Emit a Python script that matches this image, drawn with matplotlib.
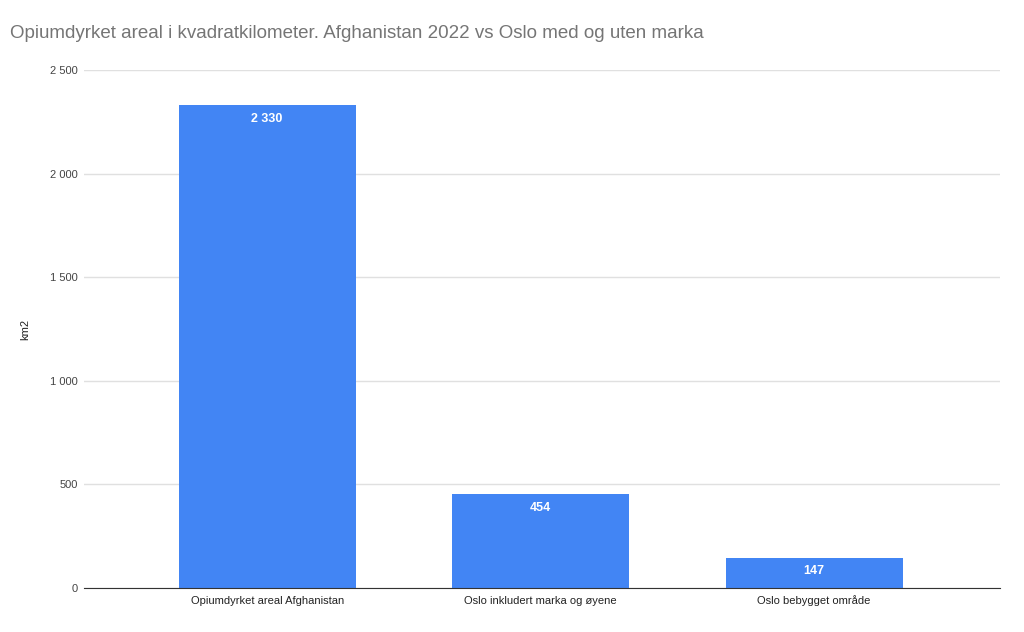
#!/usr/bin/env python3

import matplotlib
matplotlib.use("Agg")
import matplotlib.pyplot as plt

categories = ["Opiumdyrket areal Afghanistan", "Oslo inkludert marka og øyene", "Oslo bebygget område"]
values = [2330, 454, 147]
yticks = [0, 500, 1000, 1500, 2000, 2500]


def fmt(v):
    return f"{v:,}".replace(",", " ")


plt.rcParams['font.family'] = ['Liberation Sans', 'DejaVu Sans']

fig = plt.figure(figsize=(10.24, 6.32), dpi=100)
ax = fig.add_axes([0.082, 0.0696, 0.8946, 0.8194])

x = range(len(categories))
bars = ax.bar(x, values, width=0.647, color="#4285f4", zorder=3)

for b, v in zip(bars, values):
    ax.annotate(fmt(v), (b.get_x() + b.get_width() / 2, v), xytext=(0, -10),
                textcoords="offset points", ha="center", va="center",
                color="white", fontsize=9, fontweight="bold", zorder=4)

ax.set_xlim(-0.67, 2.68)
ax.set_ylim(0, 2500)
ax.set_yticks(yticks)
ax.set_yticklabels([fmt(t) for t in yticks], fontsize=8, color="#444444")
ax.set_xticks(list(x))
ax.set_xticklabels(categories, fontsize=8, color="#222222", va="baseline")
ax.tick_params(length=0)
ax.tick_params(axis="y", pad=4.5)
ax.tick_params(axis="x", pad=11.5)

ax.grid(axis="y", color="#e0e0e0", linewidth=1, zorder=0)
for s in ["top", "right", "left"]:
    ax.spines[s].set_visible(False)
ax.spines["bottom"].set_color("#333333")
ax.spines["bottom"].set_zorder(5)

ax.set_ylabel("km2", fontsize=8, color="#222222")
ax.yaxis.set_label_coords(-0.059, 0.5)

fig.text(0.0098, 0.947, "Opiumdyrket areal i kvadratkilometer. Afghanistan 2022 vs Oslo med og uten marka",
         fontsize=13.5, color="#757575", ha="left", va="center")

fig.savefig("out.png", dpi=100)
